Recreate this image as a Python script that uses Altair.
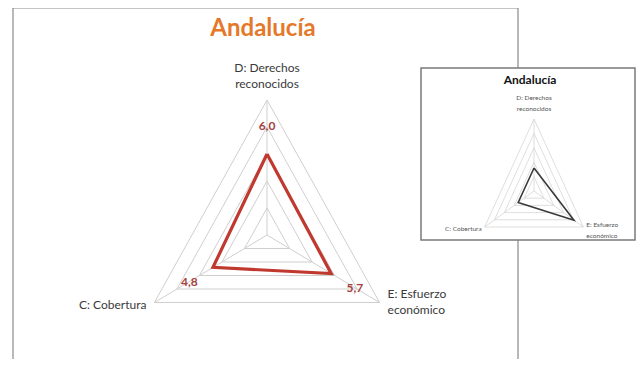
import altair as alt
import pandas as pd
import numpy as np

# ---------------- data ----------------
categories = ["D", "E", "C"]
axis_text = [["D: Derechos", "reconocidos"], ["E: Esfuerzo", "económico"], ["C: Cobertura"]]
main_values = [6.0, 5.7, 4.8]
main_labels = ["6,0", "5,7", "4,8"]
inset_values = [3.2, 8.1, 3.2]
grid_levels = [2, 4, 6, 8, 10]
title_text = "Andalucía"

# ---------------- layout ----------------
W, H = 628, 351
angles = {"D": 90.0, "E": -30.0, "C": 210.0}
MAX = 10.0
main_geo = dict(cx=259, cy=227, rx=130, ry=135)
inset_geo = dict(cx=526, cy=183, rx=57, ry=72)


def polar(geo, cat, val):
    a = np.deg2rad(angles[cat])
    return (geo["cx"] + geo["rx"] * val / MAX * np.cos(a),
            geo["cy"] - geo["ry"] * val / MAX * np.sin(a))


def ring_df(geo, name):
    rows = []
    for lv in grid_levels:
        for i, c in enumerate(categories + [categories[0]]):
            x, y = polar(geo, c, lv)
            rows.append(dict(ring=f"{name}{lv}", o=i, x=x, y=y))
    return pd.DataFrame(rows)


def spoke_df(geo):
    rows = []
    for c in categories:
        x, y = polar(geo, c, MAX)
        rows.append(dict(x=geo["cx"], y=geo["cy"], x2=x, y2=y))
    return pd.DataFrame(rows)


def series_df(geo, vals):
    rows = []
    for i, c in enumerate(categories + [categories[0]]):
        v = vals[categories.index(c)]
        x, y = polar(geo, c, v)
        rows.append(dict(o=i, x=x, y=y))
    return pd.DataFrame(rows)


xs = alt.Scale(domain=[0, W], range=[0, W], nice=False, zero=False)
ys = alt.Scale(domain=[0, H], range=[0, H], nice=False, zero=False)
X = lambda f="x": alt.X(f"{f}:Q", scale=xs, axis=None)
Y = lambda f="y": alt.Y(f"{f}:Q", scale=ys, axis=None)

layers = []

# main frame
frame = alt.Chart(pd.DataFrame({"x": [5], "x2": [510], "y": [0], "y2": [380]})).mark_rect(
    fill="white", stroke="#8a8a8a", strokeWidth=1.2
).encode(x=X(), x2="x2:Q", y=Y(), y2="y2:Q")
layers.append(frame)


def radar(geo, vals, name, line_color, line_w, ring_color, ring_w):
    out = []
    rd = ring_df(geo, name)
    out.append(alt.Chart(rd).mark_line(strokeWidth=ring_w).encode(
        x=X(), y=Y(), order="o:Q", detail="ring:N", color=alt.value(ring_color)))
    out.append(alt.Chart(spoke_df(geo)).mark_rule(color=ring_color, strokeWidth=ring_w).encode(
        x=X(), y=Y(), x2="x2:Q", y2="y2:Q"))
    out.append(alt.Chart(series_df(geo, vals)).mark_line(
        color=line_color, strokeWidth=line_w, strokeJoin="miter").encode(x=X(), y=Y(), order="o:Q"))
    return out


layers += radar(main_geo, main_values, "m", "#c0392f", 3.2, "#cfcfcf", 1.0)

# main data labels (placed outward from the points)
lab_rows = []
for c, v, t in zip(categories, main_values, main_labels):
    x, y = polar(main_geo, c, v + 2.1)
    lab_rows.append(dict(x=x, y=y, t=t))
layers.append(alt.Chart(pd.DataFrame(lab_rows)).mark_text(
    font="Lato", fontSize=12, fontWeight="bold", color="#a4423c", baseline="middle", align="center"
).encode(x=X(), y=Y(), text="t:N"))

# main axis labels
ax_style = {"D": dict(align="center", baseline="middle", dx=0, dy=-32),
            "E": dict(align="left", baseline="top", dx=8, dy=-14),
            "C": dict(align="right", baseline="middle", dx=-8, dy=2)}
for c, t in zip(categories, axis_text):
    x, y = polar(main_geo, c, MAX)
    st = ax_style[c]
    layers.append(alt.Chart(pd.DataFrame([dict(x=x, y=y, t=t)])).mark_text(
        font="Lato", fontSize=12, color="#3a3a3a", align=st["align"], baseline=st["baseline"],
        dx=st["dx"], dy=st["dy"], lineHeight=16
    ).encode(x=X(), y=Y(), text="t"))

# main title
layers.append(alt.Chart(pd.DataFrame([dict(x=main_geo["cx"] - 4, y=21, t=title_text)])).mark_text(
    font="Lato", fontSize=24, fontWeight="bold", color="#e5782a", baseline="middle", align="center"
).encode(x=X(), y=Y(), text="t:N"))

# inset box
inset = alt.Chart(pd.DataFrame({"x": [413], "x2": [627], "y": [60], "y2": [232]})).mark_rect(
    fill="white", stroke="#7a7a7a", strokeWidth=1.5
).encode(x=X(), x2="x2:Q", y=Y(), y2="y2:Q")
layers.append(inset)

layers += radar(inset_geo, inset_values, "i", "#3a3a3a", 1.6, "#d6d6d6", 0.8)

ax_style_i = {"D": dict(align="center", baseline="middle", dx=0, dy=-21),
              "E": dict(align="left", baseline="top", dx=3, dy=-5),
              "C": dict(align="right", baseline="middle", dx=-3, dy=2)}
for c, t in zip(categories, axis_text):
    x, y = polar(inset_geo, c, MAX)
    st = ax_style_i[c]
    layers.append(alt.Chart(pd.DataFrame([dict(x=x, y=y, t=t)])).mark_text(
        font="Lato", fontSize=6.5, color="#555555", align=st["align"], baseline=st["baseline"],
        dx=st["dx"], dy=st["dy"], lineHeight=11
    ).encode(x=X(), y=Y(), text="t"))

layers.append(alt.Chart(pd.DataFrame([dict(x=inset_geo["cx"] - 4, y=72, t=title_text)])).mark_text(
    font="Lato", fontSize=12, fontWeight="bold", color="#111111", baseline="middle", align="center"
).encode(x=X(), y=Y(), text="t:N"))

chart = alt.layer(*layers).properties(
    width=W, height=H, padding=0, autosize=alt.AutoSizeParams(type="none"), background="white"
).configure_view(stroke=None)

chart.save("out.html", embed_options={"renderer": "svg", "actions": False})
